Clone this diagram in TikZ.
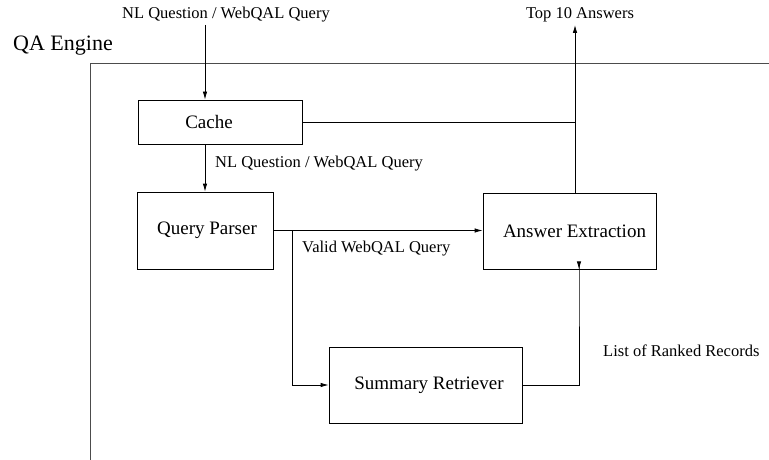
\documentclass[tikz,border=0pt]{standalone}
\usepackage{fontspec}
\setmainfont{Liberation Serif}
\usetikzlibrary{arrows.meta}
% shift a box caption sideways without changing the box
\newcommand{\nudge}[2]{\kern#1\relax #2\kern-#1\relax}
\begin{document}
\begin{tikzpicture}[x=1pt,y=-1pt,
  block/.style={draw,line width=0.8pt,inner sep=0pt,font=\fontsize{19}{22}\selectfont},
  lbl/.style={inner sep=0pt,font=\fontsize{16.5}{19}\selectfont},
  flow/.style={line width=0.8pt,-{Latex[length=8pt,width=4.5pt]}},
  link/.style={line width=0.8pt}]
\useasboundingbox (0,0) rectangle (769,460);
% engine frame
\node[inner sep=0pt,anchor=west,font=\fontsize{22}{26}\selectfont] (engine) at (13,46) {QA Engine};
\draw[line width=0.9pt,black!70] (769,63) -- (90,63) -- (90,460);
% components
\node[block,minimum width=164pt,minimum height=44pt] (cache) at (220,122) {\nudge{-11pt}{Cache}};
\node[block,minimum width=136pt,minimum height=77pt] (parser) at (205,230.5) {\nudge{2pt}{Query Parser}};
\node[block,minimum width=173pt,minimum height=76pt] (answer) at (569.5,231) {\nudge{5pt}{Answer Extraction}};
\node[block,minimum width=193pt,minimum height=76pt] (summary) at (425.5,385) {\nudge{3.5pt}{Summary Retriever}};
% labels
\node[lbl] (qin) at (226,15) {NL Question / WebQAL Query};
\node[lbl] (qout) at (580,15) {Top 10 Answers};
\node[lbl,anchor=west] (qmid) at (215,164) {NL Question / WebQAL Query};
\node[lbl,anchor=west] (valid) at (302,249) {Valid WebQAL Query};
\node[lbl,anchor=west] (ranked) at (603,351) {List of Ranked Records};
% connectors
\coordinate (inTop) at (205,25);
\coordinate (outTop) at (575,25);
\draw[flow] (inTop) -- (inTop |- cache.north);
\draw[flow] (inTop |- cache.south) -- (inTop |- parser.north);
\draw[flow] (parser.east) -- (parser.east -| answer.west);
\draw[flow] (292,230.5) |- (summary.west);
\draw[flow] (summary.east) -| (579,269) -- (answer.south -| 579,0);
\draw[flow] (outTop |- answer.north) -- (outTop);
\draw[link] (cache.east) -- (cache.east -| outTop);
\end{tikzpicture}
\end{document}
